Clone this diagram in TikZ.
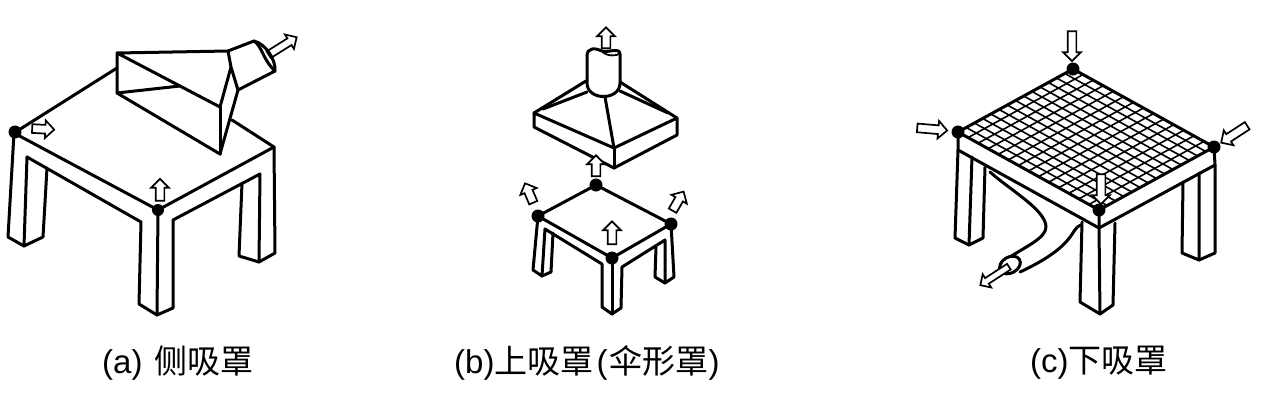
\documentclass[tikz,border=0pt]{standalone}
\usepackage{fontspec}
\setmainfont{Liberation Sans}
\newfontfamily\cjk{Noto Sans CJK SC}
\usetikzlibrary{calc,shapes.arrows}
\tikzset{
    outline/.style={line width=3pt, line join=round, line cap=round},
    cornerdot/.style={circle, fill=black, inner sep=0pt, minimum size=13pt},
    flowarrow/.style={single arrow, draw, fill=white, line width=1.7pt, inner sep=3.5pt,
        minimum width=17pt, single arrow head extend=4.5pt, single arrow head indent=0pt},
    caption/.style={inner sep=0pt, anchor=west, font=\fontsize{33}{38}\selectfont}
}
\begin{document}
\begin{tikzpicture}[x=1pt, y=-1pt]
    \useasboundingbox (0,0) rectangle (1261,400);

    % Table (a)
    \draw[outline] (117,68) -- (14,133) -- (158,210) -- (274,147) -- (232,120);
    \draw[outline] (14,133) -- (8,237) -- (24,246) -- (43,237) -- (47,168);
    \draw[outline] (24,246) -- (27,157) -- (141,222) -- (139,304) -- (157,315) -- (173,308) -- (173,220)
        -- (260,174) -- (259,262) -- (275,253) -- (274,147);
    \draw[outline] (158,210) -- (157,315);
    \draw[outline] (242,183) -- (239,256) -- (259,262);

    % Side hood on table (a)
    \draw[outline] (117,53) -- (228,51) -- (231,67) -- (220,107) -- (117,53) -- (117,93) -- (220,154) -- (238,90) -- (231,67);
    \draw[outline] (220,107) -- (220,154);
    \draw[outline] (117,93) -- (180,86);
    \draw[outline] (228,51) -- (254,41) .. controls (262,46) and (263,60) .. (275,71) -- (238,90);
    \node[flowarrow, minimum height=33pt, minimum width=17pt, inner sep=3pt, rotate=32] (aduct) at (281,47) {};
    \draw[outline] (254,41) .. controls (266,44) and (276,60) .. (275,71);

    \node[cornerdot] (aleft) at (15,132) {};
    \node[cornerdot, minimum size=12pt] (afront) at (158,210) {};
    \node[flowarrow, minimum height=22pt, rotate=-3] (aright) at (41,129) {};
    \node[flowarrow, minimum height=22pt, rotate=90] (aup) at (160,192) {};

    % Table (b)
    \draw[outline] (538,216) -- (596,185) -- (671,224) -- (612,258) -- cycle;
    \draw[outline] (538,216) -- (533,270) -- (542,276) -- (551,272) -- (553,233);
    \draw[outline] (542,276) -- (545,229) -- (602,264) -- (602,307) -- (612,314) -- (621,308) -- (622,267)
        -- (665,240) -- (665,283) -- (674,277) -- (671,224);
    \draw[outline] (612,258) -- (612,314);
    \draw[outline] (656,247) -- (655,277) -- (665,283);

    % Umbrella hood over table (b)
    \draw[outline] (534,113) -- (534,127) -- (614,168) -- (677,135) -- (677,118) -- (614,148) -- cycle;
    \draw[outline] (614,148) -- (614,168);
    \draw[outline] (614,148) -- (605,97);
    \draw[outline] (534,113) -- (586,81);
    \draw[outline] (543,109) -- (587,92);
    \draw[outline] (677,118) -- (620,82);
    \draw[outline] (668,113) -- (620,91);
    \node[flowarrow, minimum height=21pt, rotate=90] (btop) at (606,40) {};
    \draw[outline, fill=white] (587,83) -- (587,56) .. controls (587,47) and (596,48) .. (602,51)
        .. controls (608,53) and (620,47) .. (620,54) -- (620,83)
        .. controls (620,101) and (587,101) .. (587,83) -- cycle;
    \draw[line width=1.8pt] (602,51) .. controls (606,57) and (618,56) .. (620,53);

    \node[cornerdot] (bback) at (596,185) {};
    \node[cornerdot] (bleft) at (538,216) {};
    \node[cornerdot] (bfront) at (612,258) {};
    \node[cornerdot] (bright) at (671,224) {};
    \node[flowarrow, minimum height=21pt, rotate=90] (bmid) at (596,168) {};
    \node[flowarrow, minimum height=21pt, rotate=113] (bul) at (530,195) {};
    \node[flowarrow, minimum height=22pt, rotate=60] (bur) at (677,203) {};
    \node[flowarrow, minimum height=23pt, rotate=90] (bup) at (612,235) {};

    % Table (c)
    \coordinate (cback) at (1073,69);
    \coordinate (cleft) at (958,132);
    \coordinate (cfront) at (1099,210);
    \coordinate (cright) at (1214,147);
    \foreach \t in {1,...,13} {
        \draw[line width=1.6pt] ($(cback)!\t/14!(cleft)$) -- ($(cright)!\t/14!(cfront)$);
        \draw[line width=1.6pt] ($(cback)!\t/14!(cright)$) -- ($(cleft)!\t/14!(cfront)$);
    }
    \draw[outline] (cback) -- (cleft) -- (cfront) -- (cright) -- cycle;
    \draw[outline] (cleft) -- (958,150) -- (1099,228) -- (1215,165) -- (cright);
    \draw[outline] (cfront) -- (1099,228) -- (1100,314);
    \draw[outline] (958,150) -- (955,238) -- (969,245) -- (983,238) -- (985,167);
    \draw[outline] (972,157) -- (969,245);
    \draw[outline] (1082,222) -- (1080,302) -- (1100,314) -- (1113,305) -- (1115,223);
    \draw[outline] (1199,173) -- (1199,260) -- (1182,253) -- (1183,182);
    \draw[outline] (1215,165) -- (1215,253) -- (1199,260);

    % Duct under table (c)
    \draw[outline] (990,172) .. controls (1010,190) and (1046,210) .. (1046,227)
        .. controls (1046,238) and (1025,247) .. (1010,257);
    \draw[outline] (1081,225) .. controls (1070,228) and (1078,245) .. (1020,272);
    \draw[outline, fill=white] (1010,265) ellipse [x radius=11pt, y radius=8pt, rotate=30];
    \node[flowarrow, minimum height=34pt, minimum width=15pt, inner sep=2.5pt, rotate=213] (cduct) at (996,275) {};

    \node[cornerdot] (cdotback) at (cback) {};
    \node[cornerdot] (cdotleft) at (cleft) {};
    \node[cornerdot] (cdotfront) at (cfront) {};
    \node[cornerdot] (cdotright) at (cright) {};
    \node[flowarrow, minimum height=30pt, rotate=-90] (ctop) at (1072,44) {};
    \node[flowarrow, minimum height=30pt, rotate=-5] (cwest) at (930,129) {};
    \node[flowarrow, minimum height=31pt, rotate=213] (ceast) at (1236,133) {};
    \node[flowarrow, minimum height=30pt, rotate=-90] (cmid) at (1101,187) {};

    % Captions
    \node[caption] (capa) at (102,363) {(a)\hspace{12pt}{\cjk 侧吸罩}};
    \node[caption] (capb) at (454,363) {(b){\cjk 上吸罩}\hspace{3pt}({\cjk\hspace{2pt}伞形罩})};
    \node[caption] (capc) at (1030,363) {(c){\cjk 下吸罩}};
\end{tikzpicture}
\end{document}
